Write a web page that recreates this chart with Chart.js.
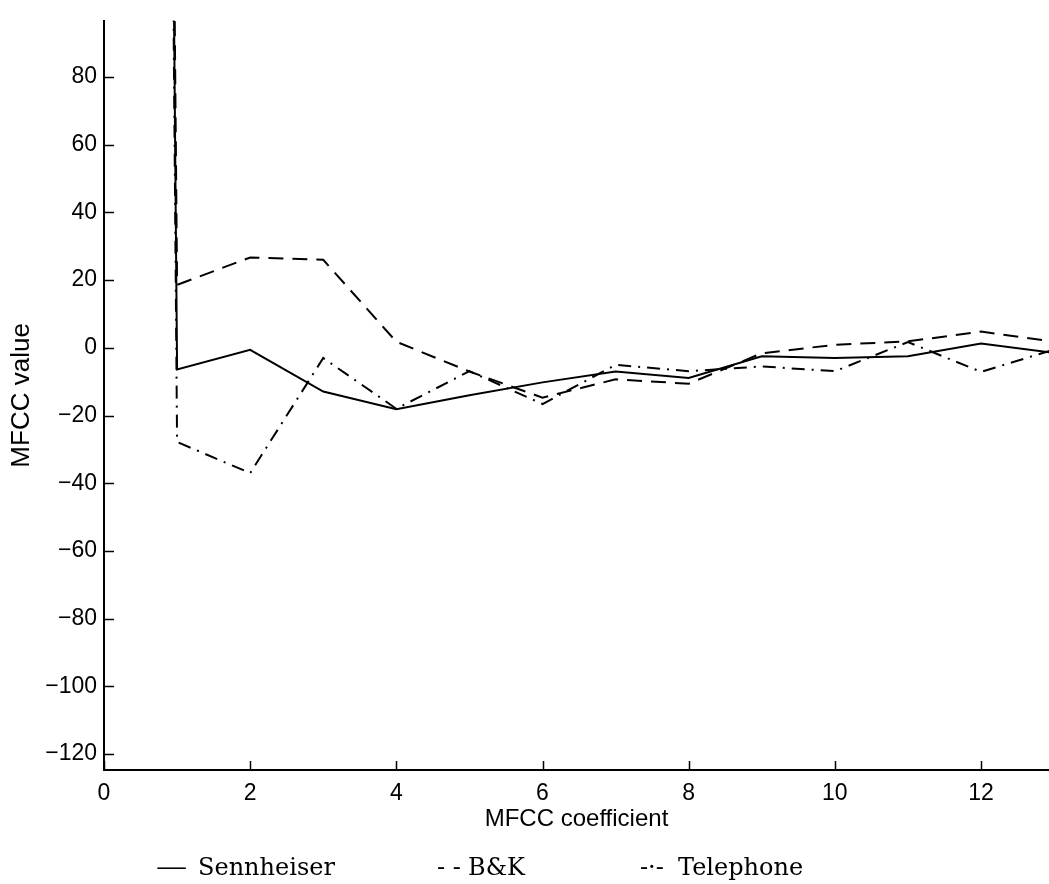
<!DOCTYPE html>
<html>
<head>
<meta charset="utf-8">
<title>MFCC value</title>
<script src="https://cdn.jsdelivr.net/npm/chart.js@4.4.0/dist/chart.umd.min.js"></script>
<style>
    html, body { margin: 0; padding: 0; background: #fff; }
    #wrap { position: relative; width: 1049px; height: 884px; }
    #mfccChart { position: absolute; left: 0; top: 0; }
    #legend {
        position: absolute; left: 0; top: 855px; width: 1049px; height: 28px;
        font-family: 'DejaVu Serif', serif; font-size: 24px; line-height: 1;
        color: #000; white-space: nowrap;
    }
    #legend .item { position: absolute; top: 0; }
    #legend .sym { display: inline-block; }
    #legend .item:nth-child(1) { left: 156px; }
    #legend .item:nth-child(1) .sym { width: 42px; transform: scaleX(1.3); transform-origin: left center; }
    #legend .item:nth-child(2) { left: 437px; }
    #legend .item:nth-child(2) .sym { width: 31px; }
    #legend .item:nth-child(3) { left: 640px; }
    #legend .item:nth-child(3) .sym { width: 38px; }
</style>
</head>
<body>
<div id="wrap">
    <canvas id="mfccChart" width="1049" height="884"></canvas>
    <div id="legend"></div>
</div>
<script>
// ===================================================================
// MFCC POR MICROFONE
// ===================================================================

// índice do coeficiente (o c0 fica bem acima do topo do eixo)
const coefs = [0, 1, 2, 3, 4, 5, 6, 7, 8, 9, 10, 11, 12, 13];

const sennheiser = [2500, -6.4, -0.6, -12.9, -18.1, -14.0, -10.2, -7.0, -8.9, -2.5, -3.0, -2.5, 1.3, -1.5];
const bk         = [2450, 18.6, 26.7, 26.0, 1.8, -7.0, -14.7, -9.3, -10.6, -1.6, 0.9, 1.9, 4.8, 1.8];
const telefone   = [2550, -27.8, -37.0, -3.0, -18.0, -6.9, -16.6, -5.0, -6.9, -5.5, -6.9, 1.7, -7.1, -0.5];

const nomes = ['Sennheiser', 'B&K', 'Telephone'];
const simbolos = ['\u2014', '- -', '-\u00b7-'];

const xTicks = [0, 2, 4, 6, 8, 10, 12];
const yTicks = [-120, -100, -80, -60, -40, -20, 0, 20, 40, 60, 80];

const fonteEixo = { family: "'Liberation Sans', Arial, sans-serif" };

function serie(label, valores, dash) {
    return {
        label: label,
        data: coefs.map((c, i) => ({ x: c, y: valores[i] })),
        borderColor: '#000',
        borderWidth: 2,
        borderDash: dash,
        pointRadius: 0,
        fill: false,
        tension: 0
    };
}

// marcas dos ticks viradas para dentro da área do gráfico
const ticksParaDentro = {
    id: 'ticksParaDentro',
    afterDraw(chart) {
        const { ctx, chartArea, scales } = chart;
        ctx.save();
        ctx.strokeStyle = '#000';
        ctx.lineWidth = 1.5;
        ctx.beginPath();
        scales.x.ticks.forEach(t => {
            const px = Math.round(scales.x.getPixelForValue(t.value)) + 0.5;
            ctx.moveTo(px, chartArea.bottom);
            ctx.lineTo(px, chartArea.bottom - 9);
        });
        scales.y.ticks.forEach(t => {
            const py = Math.round(scales.y.getPixelForValue(t.value)) + 0.5;
            ctx.moveTo(chartArea.left, py);
            ctx.lineTo(chartArea.left + 10, py);
        });
        ctx.stroke();
        ctx.restore();
    }
};

const menos = v => (v < 0 ? '\u2212' + Math.abs(v) : String(v));

new Chart(document.getElementById('mfccChart'), {
    type: 'line',
    data: {
        datasets: [
            serie(nomes[0], sennheiser, []),
            serie(nomes[1], bk, [15, 9]),
            serie(nomes[2], telefone, [13, 7, 2, 7])
        ]
    },
    options: {
        responsive: false,
        animation: false,
        devicePixelRatio: 1,
        layout: { padding: { top: 12, right: 0, bottom: 44, left: 0 } },
        plugins: {
            legend: { display: false },
            tooltip: { enabled: false }
        },
        scales: {
            x: {
                type: 'linear',
                min: 0,
                max: 12.93,
                afterBuildTicks: s => { s.ticks = xTicks.map(v => ({ value: v })); },
                afterFit: s => { s.height = 70; },
                grid: { drawOnChartArea: false, drawTicks: false },
                border: { display: true, color: '#000', width: 2 },
                ticks: {
                    padding: 10,
                    color: '#000',
                    maxRotation: 0,
                    font: { ...fonteEixo, size: 23 },
                    callback: menos
                },
                title: {
                    display: true,
                    text: 'MFCC coefficient',
                    color: '#000',
                    padding: { top: 0, bottom: 6 },
                    font: { ...fonteEixo, size: 24 }
                }
            },
            y: {
                min: -124.7,
                max: 96.6,
                afterBuildTicks: s => { s.ticks = yTicks.map(v => ({ value: v })); },
                afterFit: s => { s.width = 104; },
                grid: { drawOnChartArea: false, drawTicks: false },
                border: { display: true, color: '#000', width: 2 },
                ticks: {
                    padding: 7,
                    color: '#000',
                    font: { ...fonteEixo, size: 23 },
                    callback: menos
                },
                title: {
                    display: true,
                    text: 'MFCC value',
                    color: '#000',
                    padding: { top: 6, bottom: 0 },
                    font: { ...fonteEixo, size: 26 }
                }
            }
        }
    },
    plugins: [ticksParaDentro]
});

// legenda em texto, no estilo da figura original
const legenda = document.getElementById('legend');
nomes.forEach((nome, i) => {
    const item = document.createElement('span');
    item.className = 'item';
    const sym = document.createElement('span');
    sym.className = 'sym';
    sym.textContent = simbolos[i];
    item.appendChild(sym);
    item.appendChild(document.createTextNode(nome));
    legenda.appendChild(item);
});
</script>
</body>
</html>
